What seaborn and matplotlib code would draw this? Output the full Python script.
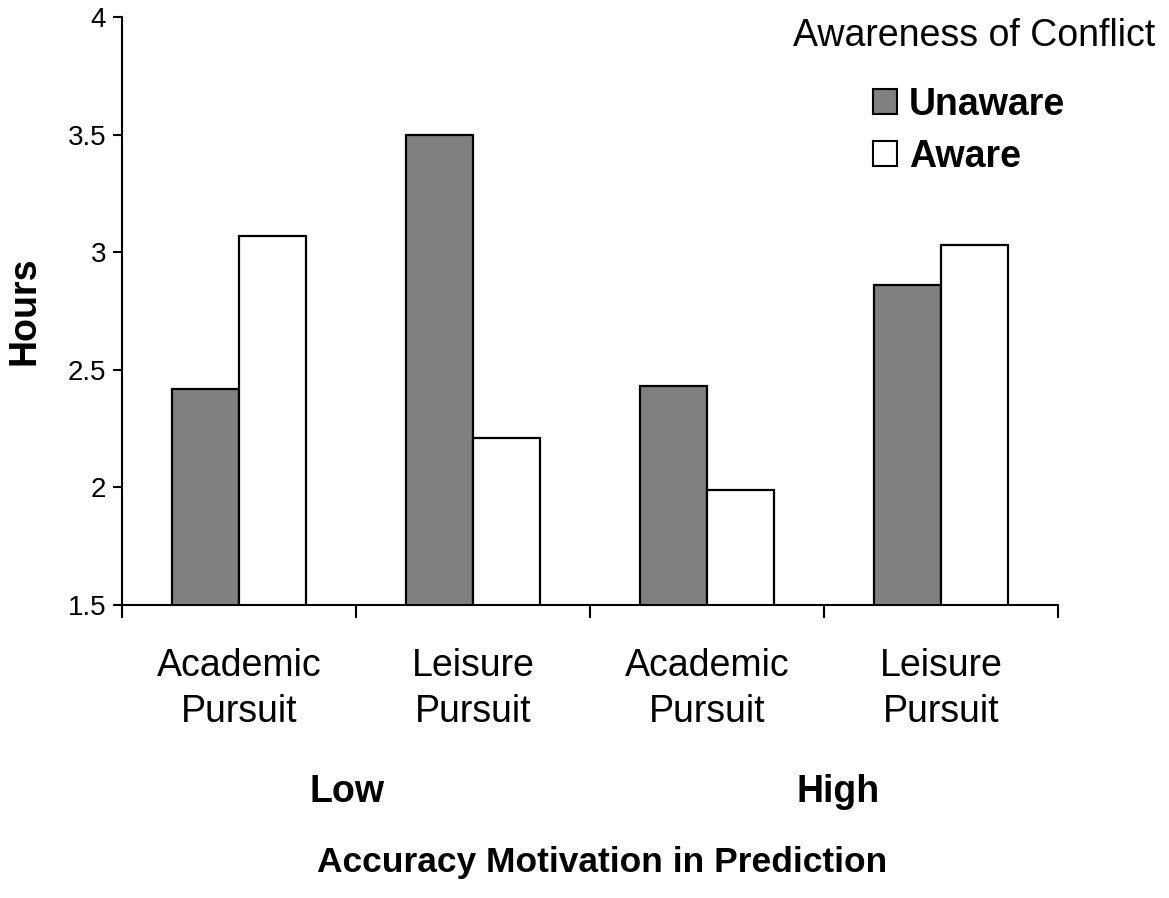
import pandas as pd
import matplotlib.pyplot as plt
import seaborn as sns

# values
conditions = ['Low Academic', 'Low Leisure', 'High Academic', 'High Leisure']
cond_labels = ['Academic\nPursuit', 'Leisure\nPursuit', 'Academic\nPursuit', 'Leisure\nPursuit']
unaware = [2.42, 3.50, 2.43, 2.86]
aware = [3.07, 2.21, 1.99, 3.03]
groups = ['Low', 'High']
y_ticks = [1.5, 2, 2.5, 3, 3.5, 4]
y_tick_labels = ['1.5', '2', '2.5', '3', '3.5', '4']

df = pd.DataFrame({
    'condition': conditions * 2,
    'hours': unaware + aware,
    'awareness': ['Unaware'] * 4 + ['Aware'] * 4,
})

sns.set_style('white')
plt.rcParams['font.family'] = ['Liberation Sans', 'DejaVu Sans']
plt.rcParams.update({'text.color': 'black', 'axes.labelcolor': 'black',
                     'xtick.color': 'black', 'ytick.color': 'black'})

big = 27
fig = plt.figure(figsize=(11.69, 8.98), dpi=100)
ax = fig.add_axes([0.1044, 0.3263, 0.8006, 0.6548])

sns.barplot(data=df, x='condition', y='hours', hue='awareness', order=conditions,
            hue_order=['Unaware', 'Aware'], palette={'Unaware': '#808080', 'Aware': 'white'},
            width=0.57, edgecolor='black', linewidth=1.6, saturation=1, ax=ax)

ax.set_ylim(1.5, 4)
ax.set_xlim(-0.5, 3.5)
ax.set_yticks(y_ticks)
ax.set_yticklabels(y_tick_labels, fontsize=20)

# major ticks at category boundaries, labels on minor ticks
ax.set_xticks([-0.5, 0.5, 1.5, 2.5, 3.5])
ax.set_xticklabels([])
ax.set_xticks(range(len(conditions)), minor=True)
ax.set_xticklabels(cond_labels, minor=True, fontsize=big, linespacing=1.34)
ax.tick_params(axis='x', which='minor', length=0, pad=31)
ax.tick_params(axis='x', which='major', direction='out', length=9, width=1.5, bottom=True)
ax.tick_params(axis='y', direction='out', length=6.5, width=1.5, left=True, pad=5)

for side in ['top', 'right']:
    ax.spines[side].set_visible(False)
for side in ['left', 'bottom']:
    ax.spines[side].set_color('black')
    ax.spines[side].set_linewidth(1.5)

ax.set_xlabel('')
ax.set_ylabel('Hours', fontsize=big, fontweight='bold', labelpad=18)

# group labels under the categories
ax.text(0.46, -0.318, groups[0], transform=ax.get_xaxis_transform(), ha='center', va='center',
        fontsize=big, fontweight='bold')
ax.text(2.56, -0.318, groups[1], transform=ax.get_xaxis_transform(), ha='center', va='center',
        fontsize=big, fontweight='bold')
fig.text(0.515, 0.040, 'Accuracy Motivation in Prediction', ha='center', va='center',
         fontsize=25.5, fontweight='bold')

# legend title drawn separately so the gap to the entries can match
fig.text(1155 / 1169, 1 - 36 / 898, 'Awareness of Conflict', ha='right', va='center', fontsize=big)
leg = ax.legend(loc='upper left', bbox_to_anchor=(873 / 1169, 1 - 87 / 898),
                bbox_transform=fig.transFigure, frameon=False, prop={'size': big, 'weight': 'bold'},
                handlelength=0.65, handleheight=0.65, handletextpad=0.3,
                labelspacing=0.43, borderaxespad=0, borderpad=0)
for h in leg.legend_handles:
    h.set_edgecolor('black')
    h.set_linewidth(1.5)

plt.savefig('out.png', dpi=100)
plt.close()
